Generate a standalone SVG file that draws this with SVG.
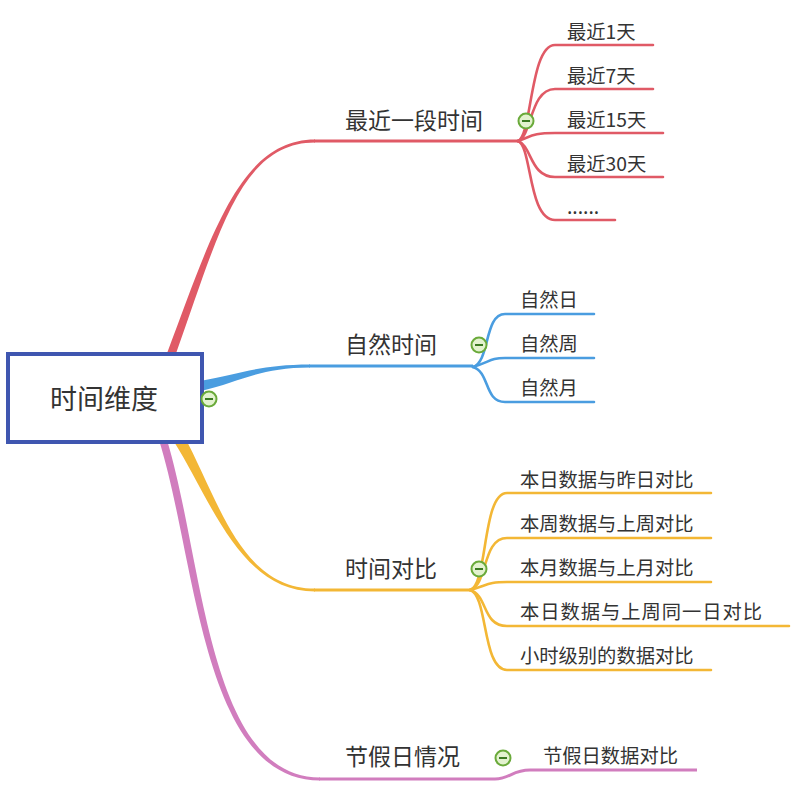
<svg xmlns="http://www.w3.org/2000/svg" width="805" height="793" viewBox="0 0 805 793">
<style>
text{font-family:"Microsoft YaHei","Noto Sans CJK SC","Noto Sans",sans-serif;fill:#333}
.main{font-size:23px}
.sub{font-size:19.3px}
.root{font-size:27px}
.r{stroke:#e05a66;fill:none}
.b{stroke:#4a9de0;fill:none}
.o{stroke:#f3b735;fill:none}
.p{stroke:#d17dbe;fill:none}
.c{stroke-width:2.6;stroke-linecap:round}
</style>
<defs>
<g id="icon">
<circle r="7.5" fill="#e3f2cf" stroke="#6aaa3a" stroke-width="2"/>
<line x1="-4" y1="0" x2="4" y2="0" stroke="#3c7a22" stroke-width="2"/>
</g>
</defs>
<rect width="805" height="793" fill="#fff"/>
<g id="connectors">
<!-- red trunk -->
<path d="M167.5,352 C211.5,235 240,139.5 315,139.5 L315,142.5 C240,142.5 218.5,235 176.5,352 Z" fill="#e05a66"/>
<path class="r" stroke-width="3" d="M314,141 H518"/>
<!-- blue trunk -->
<path d="M200,381 C240,374 260,364.5 310,364.5 L310,367.5 C260,367.5 240,382 201,391 Z" fill="#4a9de0"/>
<path class="b" stroke-width="3" d="M309,366 H473"/>
<!-- orange trunk -->
<path d="M173,440 C211,500 240,591.5 315,591.5 L315,588.5 C240,588.5 219,500 183,434 Z" fill="#f3b735"/>
<path class="o" stroke-width="3" d="M314,590 H470"/>
<!-- pink trunk -->
<path d="M159,440 C196.5,560 202,780.5 320,780.5 L320,777.5 C208,777.5 203.5,560 167,440 Z" fill="#d17dbe"/>
<path class="p" stroke-width="3" d="M319,779 H495 C510,779 512,770 530,770 H697"/>
<!-- red children -->
<path class="r c" d="M518,141 C532,136 530,45 555,45 H653"/>
<path class="r c" d="M518,141 C532,136 530,89 555,89 H653"/>
<path class="r c" d="M518,141 C532,136 533,133 555,133 H663"/>
<path class="r c" d="M518,141 C532,146 530,177 555,177 H663"/>
<path class="r c" d="M518,141 C532,146 528,220 555,220 H615"/>
<!-- blue children -->
<path class="b c" d="M473,367 C490,362 484,314 505,314 H594"/>
<path class="b c" d="M473,367 C490,362 490,358 505,358 H594"/>
<path class="b c" d="M473,367 C490,372 484,402 505,402 H594"/>
<!-- orange children -->
<path class="o c" d="M470,590 C488,585 482,493 507,493 H711"/>
<path class="o c" d="M470,590 C488,585 482,538 507,538 H711"/>
<path class="o c" d="M470,590 C488,585 488,582 507,582 H711"/>
<path class="o c" d="M470,590 C488,595 482,626 507,626 H789"/>
<path class="o c" d="M470,590 C488,595 482,670 507,670 H711"/>
</g>
<g id="root">
<rect x="8" y="354" width="194" height="88" fill="#fff" stroke="#3f56b0" stroke-width="4"/>
<text class="root" x="104" y="409" text-anchor="middle">时间维度</text>
<use href="#icon" x="209" y="399"/>
</g>
<g id="n1">
<text class="main" x="345" y="129">最近一段时间</text>
<use href="#icon" x="526" y="121"/>
</g>
<g id="n1-1"><text class="sub" x="567" y="39">最近1天</text></g>
<g id="n1-2"><text class="sub" x="567" y="83">最近7天</text></g>
<g id="n1-3"><text class="sub" x="567" y="127">最近15天</text></g>
<g id="n1-4"><text class="sub" x="567" y="171">最近30天</text></g>
<g id="n1-5"><text class="sub" x="567" y="214">......</text></g>
<g id="n2">
<text class="main" x="345" y="353">自然时间</text>
<use href="#icon" x="479" y="345"/>
</g>
<g id="n2-1"><text class="sub" x="520" y="307">自然日</text></g>
<g id="n2-2"><text class="sub" x="520" y="351">自然周</text></g>
<g id="n2-3"><text class="sub" x="520" y="395">自然月</text></g>
<g id="n3">
<text class="main" x="345" y="577">时间对比</text>
<use href="#icon" x="479" y="569"/>
</g>
<g id="n3-1"><text class="sub" x="520" y="487">本日数据与昨日对比</text></g>
<g id="n3-2"><text class="sub" x="520" y="531">本周数据与上周对比</text></g>
<g id="n3-3"><text class="sub" x="520" y="575">本月数据与上月对比</text></g>
<g id="n3-4"><text class="sub" x="520" y="619" textLength="242" lengthAdjust="spacing">本日数据与上周同一日对比</text></g>
<g id="n3-5"><text class="sub" x="520" y="663">小时级别的数据对比</text></g>
<g id="n4">
<text class="main" x="345" y="765">节假日情况</text>
<use href="#icon" x="503" y="758"/>
</g>
<g id="n4-1"><text class="sub" x="543" y="763">节假日数据对比</text></g>
</svg>
